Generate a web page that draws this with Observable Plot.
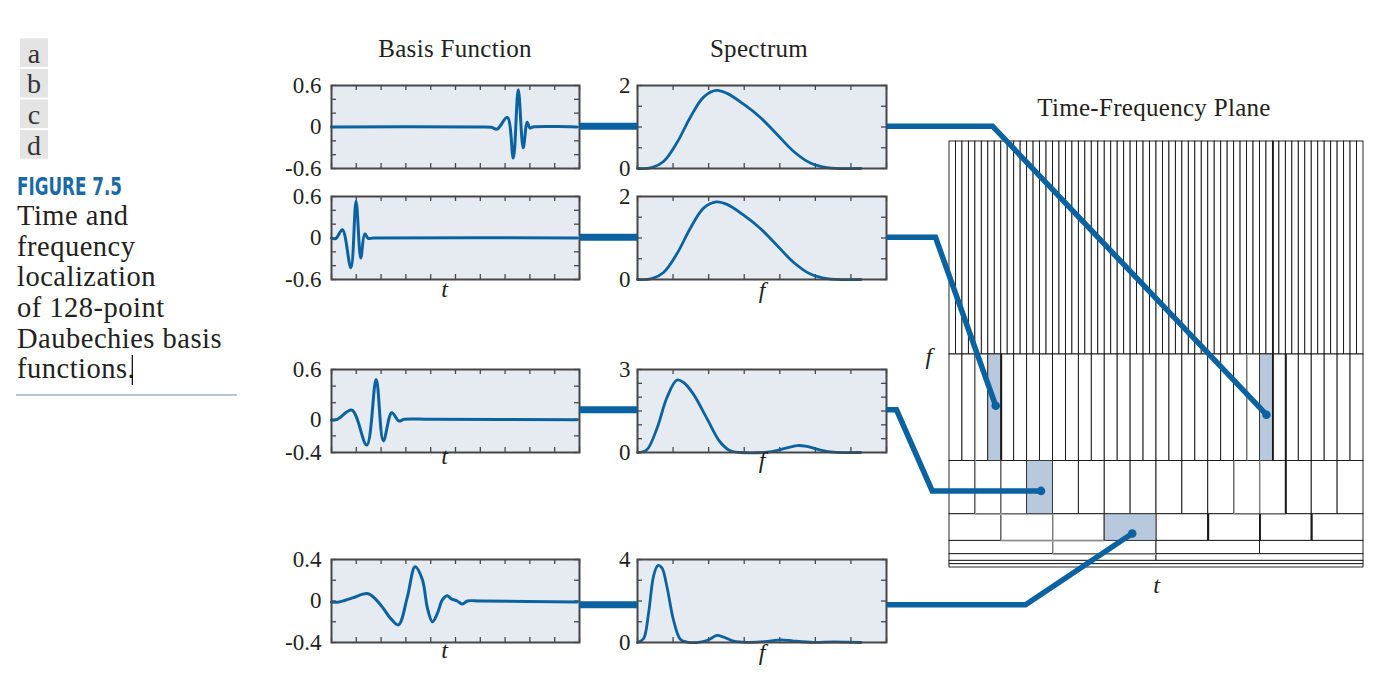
<!DOCTYPE html>
<html><head><meta charset="utf-8">
<script src="https://cdn.jsdelivr.net/npm/d3@7"></script>
<script src="https://cdn.jsdelivr.net/npm/@observablehq/plot@0.6"></script>
<style>
html,body{margin:0;padding:0;background:#fff;}
#fig{position:relative;width:1385px;height:695px;overflow:hidden;}
#fig svg{position:absolute;}
</style></head><body><div id="fig"></div>
<script>
// ---------------- data ----------------
// basis functions (t in [0,1], value)
const basisA_t = [0, 0.60, 0.645, 0.668, 0.709, 0.733, 0.753, 0.773, 0.789, 0.800, 0.812, 0.99];
const basisA_v = [0, 0, -0.005, -0.03, 0.14, -0.45, 0.54, -0.30, 0.07, -0.015, 0, 0];
const basisB_t = [0, 0.017, 0.044, 0.078, 0.099, 0.118, 0.134, 0.148, 0.17, 0.99];
const basisB_v = [0, -0.01, 0.12, -0.43, 0.53, -0.29, 0.06, -0.005, 0, 0];
const basisC_t = [0, 0.024, 0.082, 0.142, 0.18, 0.209, 0.243, 0.272, 0.293, 0.4, 0.99];
const basisC_v = [-0.01, 0, 0.11, -0.31, 0.48, -0.26, 0.08, -0.02, 0, 0, -0.005];
const basisD_t = [0, 0.031, 0.085, 0.148, 0.199, 0.239, 0.27, 0.306, 0.337, 0.366, 0.387, 0.407, 0.427, 0.447, 0.467, 0.483, 0.507, 0.528, 0.548, 0.601, 0.99];
const basisD_v = [-0.01, -0.01, 0.03, 0.07, -0.04, -0.17, -0.23, 0.04, 0.33, 0.21, -0.07, -0.20, -0.12, 0.01, 0.05, 0.02, 0, -0.03, 0, 0, -0.01];
// spectra (f in [0, pi], magnitude)
const specA_f = [0, 0.2, 0.366, 0.554, 0.741, 0.929, 1.107, 1.258, 1.492, 1.727, 1.962, 2.196, 2.431, 2.665, 3.14];
const specA_v = [0, 0.02, 0.17, 0.62, 1.23, 1.72, 1.88, 1.81, 1.55, 1.23, 0.82, 0.41, 0.13, 0.02, 0];
const specB_f = [0, 0.2, 0.366, 0.554, 0.741, 0.929, 1.107, 1.258, 1.492, 1.727, 1.962, 2.196, 2.431, 2.665, 3.14];
const specB_v = [0, 0.02, 0.17, 0.62, 1.23, 1.72, 1.87, 1.81, 1.55, 1.23, 0.82, 0.41, 0.13, 0.02, 0];
const specC_f = [0, 0.131, 0.272, 0.413, 0.554, 0.648, 0.788, 0.976, 1.164, 1.305, 1.445, 1.821, 2.008, 2.243, 2.384, 2.572, 2.759, 3.14];
const specC_v = [0, 0.1, 0.86, 1.98, 2.62, 2.53, 2.1, 1.23, 0.37, 0.06, 0, 0.01, 0.1, 0.25, 0.22, 0.09, 0.01, 0];
const specD_f = [0, 0.084, 0.155, 0.225, 0.286, 0.343, 0.413, 0.507, 0.601, 0.694, 0.882, 1.0, 1.117, 1.211, 1.351, 1.539, 1.821, 2.008, 2.196, 2.478, 2.759, 3.14];
const specD_v = [0, 0.18, 1.40, 3.19, 3.71, 3.6, 2.7, 1.07, 0.16, 0.02, 0.02, 0.13, 0.34, 0.26, 0.07, 0.01, 0.05, 0.13, 0.07, 0.01, 0.03, 0];

// axes
const basisXTicks = [0, 0.1, 0.2, 0.3, 0.4, 0.5, 0.6, 0.7, 0.8, 0.9, 1];
const basisYDomains = [[-0.6, 0.6], [-0.6, 0.6], [-0.4, 0.6], [-0.4, 0.4]];
const basisYTicks = [[-0.6, -0.4, -0.2, 0, 0.2, 0.4, 0.6], [-0.6, -0.4, -0.2, 0, 0.2, 0.4, 0.6], [-0.4, -0.2, 0, 0.2, 0.4, 0.6], [-0.4, -0.2, 0, 0.2, 0.4]];
const basisYLabels = [[-0.6, 0, 0.6], [-0.6, 0, 0.6], [-0.4, 0, 0.6], [-0.4, 0, 0.4]];
const specXTicks = [0, 0.5, 1, 1.5, 2, 2.5, 3, 3.5];
const specYDomains = [[0, 2], [0, 2], [0, 3], [0, 4]];
const specYTicks = [[0, 0.5, 1, 1.5, 2], [0, 0.5, 1, 1.5, 2], [0, 0.5, 1, 1.5, 2, 2.5, 3], [0, 1, 2, 3, 4]];
const specYLabels = [[0, 2], [0, 2], [0, 3], [0, 4]];

// time-frequency tiling (cells per row, top to bottom)
const tfBands = [64, 32, 16, 8, 4, 2, 1, 1];
const tfRowLow = [64, 32, 16, 8, 4, 2, 1, 0];
const tfRowHigh = [128, 64, 32, 16, 8, 4, 2, 1];
const hlRow = [1, 1, 2, 3];          // highlighted cell row (a,b,c,d)
const hlIndex = [24, 3, 3, 3];       // highlighted cell index
const dotT = [97.9, 14.2, 28.2, 56.4];
const dotF = [46, 48.7, 23.1, 10.3];
const greyV_t = [8, 92, 8, 16, 88, 96, 16, 32, 32];
const greyV_f1 = [32, 32, 16, 16, 16, 16, 8, 8, 4];
const greyV_f2 = [64, 64, 32, 32, 32, 32, 16, 16, 8];
const greyH_f = [16, 16, 8, 4];
const greyH_t1 = [8, 88, 16, 32];
const greyH_t2 = [24, 104, 48, 64];
const thickV_t = [16, 100, 104, 80, 96, 112];
const thickV_f1 = [32, 32, 16, 8, 8, 8];
const thickV_f2 = [64, 128, 64, 16, 16, 16];

const captionLines = ["Time and", "frequency", "localization", "of 128-point", "Daubechies basis", "functions."];
const panelLetters = ["a", "b", "c", "d"];

// ---------------- style / layout ----------------
const BLUE = "#0b62a0", PANEL = "#e6ebf2", FRAME = "#474747", HILITE = "#b9c9dd", INK = "#231f20";
const SERIF = "'Liberation Serif','Times New Roman',serif";
const rowTops = [85, 196, 369, 559];
const PH = 83;
const BL = 331, BW = 248, SL = 637, SW = 249;
const connY = [125.7, 236.8, 409.3, 604.2];
const tLabelDy = [null, 17, 11, 15];
const fLabelDy = [null, 18, 15, 17];
const TFL = 949.3, TFT = 141.3, TFW = 414, TFH = 426;

const fig = document.getElementById("fig");
const zip = (a, b) => a.map((x, i) => ({x, y: b[i]}));

function place(el, left, top) { el.style.left = left + "px"; el.style.top = top + "px"; fig.appendChild(el); return el; }

function panel({left, top, width, xDomain, xTicks, yDomain, yTicks, yLabels, data, ml, pad, label, labelDx, labelDy, sw}) {
  const mt = 10, mr = 8, mb = 36;
  const kx = 5 / width * (xDomain[1] - xDomain[0]);
  const ky = 5 / PH * (yDomain[1] - yDomain[0]);
  const tk = {stroke: FRAME, strokeWidth: 1.3};
  const p = Plot.plot({
    width: width + ml + mr, height: PH + mt + mb,
    marginLeft: ml, marginRight: mr, marginTop: mt, marginBottom: mb,
    x: {domain: xDomain, axis: null},
    y: {domain: yDomain},
    style: {background: "transparent", fontFamily: SERIF, fontSize: "23px", color: INK, overflow: "visible"},
    marks: [
      Plot.frame({fill: PANEL}),
      Plot.ruleY(yTicks, {y: d => d, x1: xDomain[0], x2: xDomain[0] + kx, ...tk}),
      Plot.ruleY(yTicks, {y: d => d, x1: xDomain[1] - kx, x2: xDomain[1], ...tk}),
      Plot.ruleX(xTicks, {x: d => d, y1: yDomain[0], y2: yDomain[0] + ky, ...tk}),
      Plot.ruleX(xTicks, {x: d => d, y1: yDomain[1] - ky, y2: yDomain[1], ...tk}),
      Plot.line(data, {x: "x", y: "y", stroke: BLUE, strokeWidth: sw, curve: "catmull-rom"}),
      Plot.frame({stroke: FRAME, strokeWidth: 2}),
      Plot.axisY(yLabels, {anchor: "left", tickSize: 0, tickPadding: pad, tickFormat: d => String(d), label: null, fontSize: 23, fontFamily: SERIF}),
      label ? Plot.text([label], {text: d => d, frameAnchor: "bottom", dx: labelDx, dy: labelDy, fontStyle: "italic", fontSize: 24, fontFamily: SERIF, fill: INK}) : null
    ]
  });
  return place(p, left - ml, top - mt);
}

// ---------------- text layer ----------------
const ann = d3.create("svg").attr("width", 1385).attr("height", 695).style("left", "0px").style("top", "0px");
panelLetters.forEach((s, i) => {
  const y = 38.3 + i * 30.6;
  ann.append("rect").attr("x", 20).attr("y", y).attr("width", 28).attr("height", 28.6).attr("fill", "#e4e4e4");
  ann.append("text").attr("x", 34).attr("y", y + 24.5).attr("text-anchor", "middle")
    .attr("font-family", SERIF).attr("font-size", 28).attr("fill", "#333").text(s);
});
ann.append("text").attr("x", 17).attr("y", 195).attr("font-family", "'Liberation Sans Narrow','DejaVu Sans Condensed','Liberation Sans',sans-serif")
  .attr("font-weight", "bold").attr("font-size", 24).attr("fill", "#1a6aa6")
  .attr("textLength", 105).attr("lengthAdjust", "spacingAndGlyphs").text("FIGURE 7.5");
captionLines.forEach((s, i) => {
  ann.append("text").attr("x", 17).attr("y", 225 + i * 30.65).attr("font-family", SERIF)
    .attr("font-size", 28.5).attr("letter-spacing", "0.5px").attr("fill", INK).text(s);
});
ann.append("line").attr("x1", 132.3).attr("x2", 132.3).attr("y1", 355).attr("y2", 385).attr("stroke", "#000").attr("stroke-width", 1.2);
ann.append("line").attr("x1", 16).attr("x2", 237).attr("y1", 395).attr("y2", 395).attr("stroke", "#b5c6d9").attr("stroke-width", 2.2);
[["Basis Function", 455, 57], ["Spectrum", 759, 57], ["Time-Frequency Plane", 1154, 116]].forEach(([s, x, y]) => {
  ann.append("text").attr("x", x).attr("y", y).attr("text-anchor", "middle").attr("font-family", SERIF)
    .attr("font-size", 25).attr("letter-spacing", "0.3px").attr("fill", INK).text(s);
});
place(ann.node(), 0, 0);

// ---------------- panels ----------------
const basisData = [zip(basisA_t, basisA_v), zip(basisB_t, basisB_v), zip(basisC_t, basisC_v), zip(basisD_t, basisD_v)];
const specData = [zip(specA_f, specA_v), zip(specB_f, specB_v), zip(specC_f, specC_v), zip(specD_f, specD_v)];
for (let i = 0; i < 4; i++) {
  panel({left: BL, top: rowTops[i], width: BW, xDomain: [0, 1], xTicks: basisXTicks,
    yDomain: basisYDomains[i], yTicks: basisYTicks[i], yLabels: basisYLabels[i], data: basisData[i],
    ml: 60, pad: 10, label: i ? "t" : null, labelDx: -11, labelDy: tLabelDy[i], sw: 3});
  panel({left: SL, top: rowTops[i], width: SW, xDomain: [0, 3.5], xTicks: specXTicks,
    yDomain: specYDomains[i], yTicks: specYTicks[i], yLabels: specYLabels[i], data: specData[i],
    ml: 30, pad: 7, label: i ? "f" : null, labelDx: 0, labelDy: fLabelDy[i], sw: 2.8});
}

// ---------------- time-frequency plane ----------------
const tfCells = [];
tfBands.forEach((n, r) => { for (let k = 0; k < n; k++) tfCells.push({x1: k * 128 / n, x2: (k + 1) * 128 / n, y1: tfRowLow[r], y2: tfRowHigh[r]}); });
const hlCells = hlRow.map((r, i) => { const n = tfBands[r]; return {x1: hlIndex[i] * 128 / n, x2: (hlIndex[i] + 1) * 128 / n, y1: tfRowLow[r], y2: tfRowHigh[r]}; });
const greyV = greyV_t.map((t, i) => ({t, f1: greyV_f1[i], f2: greyV_f2[i]}));
const greyH = greyH_f.map((f, i) => ({f, t1: greyH_t1[i], t2: greyH_t2[i]}));
const thickV = thickV_t.map((t, i) => ({t, f1: thickV_f1[i], f2: thickV_f2[i]}));
const TML = 40, TMT = 5;
const tf = Plot.plot({
  width: TFW + TML + 5, height: TFH + TMT + 40,
  marginLeft: TML, marginRight: 5, marginTop: TMT, marginBottom: 40,
  x: {domain: [0, 128], axis: null}, y: {domain: [0, 128], axis: null},
  style: {background: "transparent", fontFamily: SERIF, color: INK, overflow: "visible"},
  marks: [
    Plot.rect(tfCells, {x1: "x1", x2: "x2", y1: "y1", y2: "y2", fill: "white", stroke: "#111", strokeWidth: 0.9}),
    Plot.rect(hlCells, {x1: "x1", x2: "x2", y1: "y1", y2: "y2", fill: HILITE, stroke: "#333", strokeWidth: 0.9}),
    Plot.ruleX(greyV, {x: "t", y1: "f1", y2: "f2", stroke: "#a8a8a8", strokeWidth: 1.4}),
    Plot.ruleY(greyH, {y: "f", x1: "t1", x2: "t2", stroke: "#a8a8a8", strokeWidth: 1.4}),
    Plot.ruleX(thickV, {x: "t", y1: "f1", y2: "f2", stroke: "#1a1a1a", strokeWidth: 1.9}),
    Plot.text(["f"], {text: d => d, frameAnchor: "left", dx: -24, dy: 2, fontStyle: "italic", fontSize: 24, fontFamily: SERIF, fill: INK}),
    Plot.text(["t"], {text: d => d, frameAnchor: "bottom", dy: 25, fontStyle: "italic", fontSize: 24, fontFamily: SERIF, fill: INK})
  ]
});
const tfLeft = TFL - TML, tfTop = TFT - TMT;
place(tf, tfLeft, tfTop);

// ---------------- connectors ----------------
const sx = tf.scale("x"), sy = tf.scale("y");
const dotX = dotT.map(t => sx.apply(t) + tfLeft);
const dotY = dotF.map(f => sy.apply(f) + tfTop);
const bendX = [[992], [935], [896, 931.7], [1025]];
const routes = connY.map((y, i) => {
  const pts = [{x: SL + SW, y}];
  const b = bendX[i];
  if (b.length === 1) pts.push({x: b[0], y});
  else { pts.push({x: b[0], y}); pts.push({x: b[1], y: dotY[i]}); }
  pts.push({x: dotX[i], y: dotY[i]});
  return pts.map(p => ({...p, id: i}));
}).flat();
const bars = connY.map((y, i) => [{x: BL + BW, y, id: i}, {x: SL, y, id: i}]).flat();
const dots = dotX.map((x, i) => ({x, y: dotY[i]}));
const overlay = Plot.plot({
  width: 1385, height: 695, margin: 0,
  x: {domain: [0, 1385], range: [0, 1385], axis: null},
  y: {domain: [0, 695], range: [0, 695], axis: null},
  style: {background: "transparent", overflow: "visible", pointerEvents: "none"},
  marks: [
    Plot.line(bars, {x: "x", y: "y", z: "id", stroke: BLUE, strokeWidth: 7, strokeLinecap: "butt"}),
    Plot.line(routes, {x: "x", y: "y", z: "id", stroke: BLUE, strokeWidth: 5.5, strokeLinecap: "butt", strokeLinejoin: "miter", strokeMiterlimit: 4}),
    Plot.dot(dots, {x: "x", y: "y", r: 4.3, fill: BLUE, stroke: null})
  ]
});
place(overlay, 0, 0);
</script></body></html>
